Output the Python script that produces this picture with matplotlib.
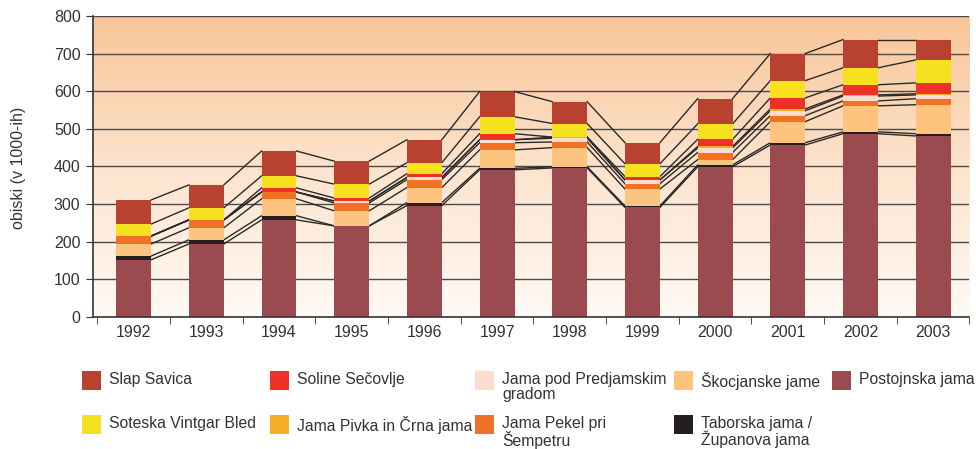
import numpy as np
import matplotlib
matplotlib.use("Agg")
import matplotlib.pyplot as plt
from matplotlib.patches import Rectangle
from matplotlib.colors import LinearSegmentedColormap

plt.rcParams['font.family'] = ['Liberation Sans', 'DejaVu Sans']

years = ['1992', '1993', '1994', '1995', '1996', '1997',
         '1998', '1999', '2000', '2001', '2002', '2003']

# visitors in thousands, stacked bottom -> top
postojnska = [152, 194, 258, 242, 296, 391, 396, 291, 399, 457, 487, 481]
taborska = [10, 11, 11, 0, 8, 4, 3, 4, 5, 6, 5, 6]
skocjan = [32, 32, 45, 40, 40, 49, 51, 45, 14, 56, 69, 77]
pekel = [21, 21, 18, 21, 21, 19, 15, 14, 19, 16, 13, 16]
predjama = [0, 0, 0, 5, 6, 8, 10, 10, 12, 13, 13, 10]
pivka = [0, 0, 0, 0, 0, 0, 3, 0, 4, 5, 3, 3]
soline = [0, 0, 11, 8, 10, 16, 0, 9, 19, 29, 27, 29]
vintgar = [32, 32, 32, 37, 29, 45, 36, 34, 41, 46, 45, 61]
savica = [64, 61, 66, 61, 61, 67, 58, 56, 67, 72, 75, 54]

series = [
    ('Postojnska jama', postojnska, '#9b4a4f'),
    ('Taborska jama /\nŽupanova jama', taborska, '#231f20'),
    ('Škocjanske jame', skocjan, '#fdc47f'),
    ('Jama Pekel pri\nŠempetru', pekel, '#f07224'),
    ('Jama pod Predjamskim\ngradom', predjama, '#fcdccf'),
    ('Jama Pivka in Črna jama', pivka, '#f9ae2a'),
    ('Soline Sečovlje', soline, '#ee3126'),
    ('Soteska Vintgar Bled', vintgar, '#f5e11e'),
    ('Slap Savica', savica, '#b94130'),
]

fig = plt.figure(figsize=(9.76, 4.49), dpi=100)
ax = fig.add_axes([0.0953, 0.294, 0.898, 0.6706])

x = np.arange(len(years))
w = 0.48
xmin, xmax = -0.56, 11.5

# gradient background
grad = np.linspace(0, 1, 256).reshape(-1, 1)
cmap = LinearSegmentedColormap.from_list('bg', ['#fffaf5', '#fde3cc', '#f9c598'])
ax.imshow(grad, extent=[xmin, xmax, 0, 800], origin='lower', aspect='auto',
          cmap=cmap, zorder=0)

for yv in range(100, 801, 100):
    ax.axhline(yv, color='#4a4a4a', lw=1.0, zorder=1)

bottom = np.zeros(len(years))
for name, vals, col in series:
    vals = np.array(vals, dtype=float)
    ax.bar(x, vals, w, bottom=bottom, color=col, zorder=3, linewidth=0)
    bottom = bottom + vals
    # series lines between neighbouring bars
    for i in range(len(years) - 1):
        ax.plot([x[i] + w / 2, x[i + 1] - w / 2], [bottom[i], bottom[i + 1]],
                color='#2a2a2a', lw=1.0, zorder=2)

ax.set_xlim(xmin, xmax)
ax.set_ylim(0, 800)
ax.set_yticks(range(0, 801, 100))
ax.set_xticks(x)
ax.set_xticklabels(years)
ax.set_xticks(np.arange(-0.5, 12, 1), minor=True)
ax.tick_params(axis='x', which='major', length=0, pad=6, labelsize=11.5,
               colors='#333333')
ax.tick_params(axis='x', which='minor', length=5, color='#333333', direction='out')
ax.tick_params(axis='y', length=5, color='#333333', labelsize=11.5,
               colors='#333333', pad=4)
for s in ['top', 'right']:
    ax.spines[s].set_visible(False)
for s in ['left', 'bottom']:
    ax.spines[s].set_color('#333333')
    ax.spines[s].set_linewidth(1.2)
    ax.spines[s].set_zorder(4)

fig.text(0.019, 0.626, 'obiski (v 1000-ih)', rotation=90, ha='center', va='center',
         fontsize=11.5, color='#333333')

# legend, laid out like the original
legend_order = [8, 6, 4, 2, 0, 7, 5, 3, 1]
col_x = [82, 270, 475, 674, 832]
row_y = [371, 415]
for k, idx in enumerate(legend_order):
    name, vals, col = series[idx]
    r, c = divmod(k, 5)
    px, py = col_x[c], row_y[r]
    fig.patches.append(Rectangle((px / 976, 1 - (py + 19) / 449), 19 / 976, 19 / 449,
                                 transform=fig.transFigure, facecolor=col,
                                 edgecolor='none'))
    fig.text((px + 27) / 976, 1 - (py + 1) / 449, name, ha='left', va='top',
             fontsize=11.3, color='#333333', linespacing=1.0)

fig.savefig('out.png', dpi=100)
